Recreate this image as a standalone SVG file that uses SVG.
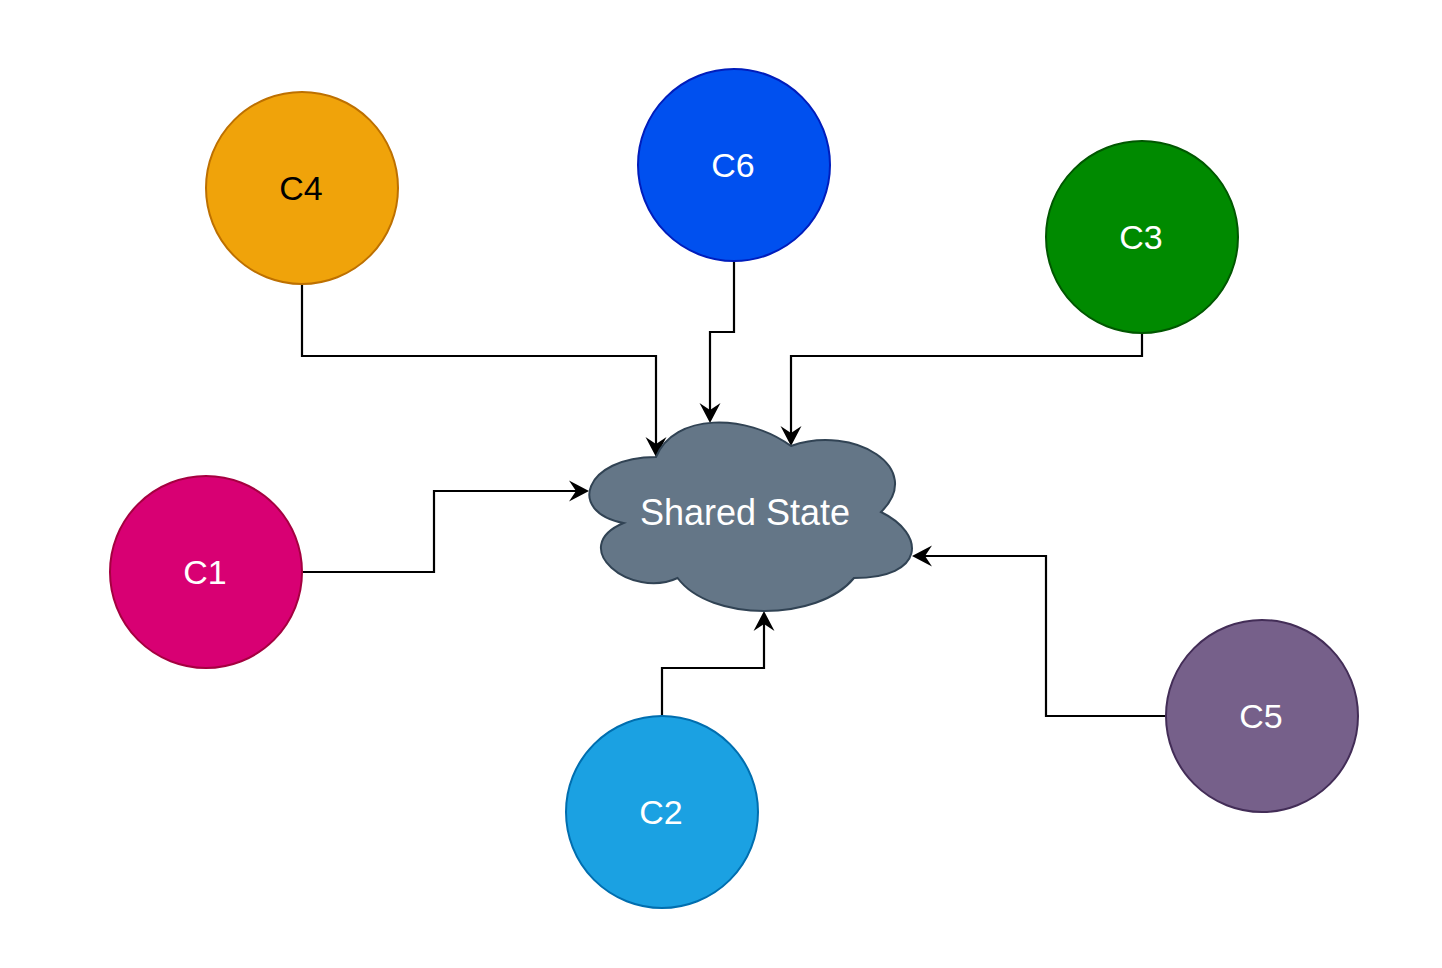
<svg xmlns="http://www.w3.org/2000/svg" width="1442" height="968" viewBox="0 0 1442 968">
<style>
.lbl{font-family:"Liberation Sans",Arial,sans-serif;font-size:34px;text-anchor:middle;fill:#ffffff}
.dark{fill:#000000}
.node{stroke-width:2}
.edge{fill:none;stroke:#000000;stroke-width:2.2;marker-end:url(#arr)}
</style>
<defs>
<marker id="arr" markerUnits="userSpaceOnUse" markerWidth="40" markerHeight="40" refX="0" refY="0" orient="auto" viewBox="-20 -20 40 40" overflow="visible">
<path d="M13,0 L-7,-10.5 L0,0 L-7,10.5 Z" fill="#000000"/>
</marker>
</defs>
<rect width="1442" height="968" fill="#ffffff"/>
<g id="connectors">
<path class="edge" d="M302,284 V356 H656 V444"/>
<path class="edge" d="M734,261 V332 H710 V410"/>
<path class="edge" d="M1142,333 V356 H791 V433"/>
<path class="edge" d="M302,572 H434 V491 H576"/>
<path class="edge" d="M1166,716 H1046 V556 H925"/>
<path class="edge" d="M662,716 V668 H764 V624"/>
</g>
<g id="shared-state">
<path d="M656,457 C584,457 566,512 623.6,523 C566,547.2 630.8,600 677.6,578 C710,622 818,622 854,578 C926,578 926,534 881,512 C926,468 854,424 791,446 C746,413 674,413 656,457 Z" fill="#647687" stroke="#314354" stroke-width="2"/>
<text class="lbl" x="745" y="525" style="font-size:36px">Shared State</text>
</g>
<g id="c4">
<circle class="node" cx="302" cy="188" r="96" fill="#f0a30a" stroke="#bd7000"/>
<text class="lbl dark" x="301" y="200">C4</text>
</g>
<g id="c6">
<circle class="node" cx="734" cy="165" r="96" fill="#0050ef" stroke="#001dbc"/>
<text class="lbl" x="733" y="177">C6</text>
</g>
<g id="c3">
<circle class="node" cx="1142" cy="237" r="96" fill="#008a00" stroke="#005700"/>
<text class="lbl" x="1141" y="249">C3</text>
</g>
<g id="c1">
<circle class="node" cx="206" cy="572" r="96" fill="#d80073" stroke="#a50040"/>
<text class="lbl" x="205" y="584">C1</text>
</g>
<g id="c2">
<circle class="node" cx="662" cy="812" r="96" fill="#1ba1e2" stroke="#006eaf"/>
<text class="lbl" x="661" y="824">C2</text>
</g>
<g id="c5">
<circle class="node" cx="1262" cy="716" r="96" fill="#76608a" stroke="#432d57"/>
<text class="lbl" x="1261" y="728">C5</text>
</g>
</svg>
